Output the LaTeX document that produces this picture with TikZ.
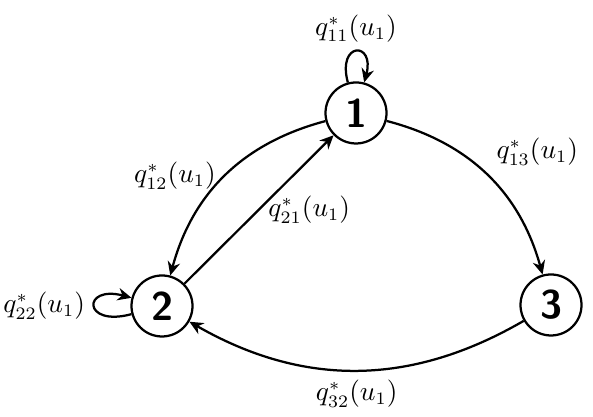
\documentclass[tikz,border=0pt]{standalone}
\usetikzlibrary{arrows.meta}
\begin{document}
\begin{tikzpicture}[x=0.4pt,y=0.4pt,
  state/.style={circle,draw,line width=0.9pt,minimum size=24.4pt,inner sep=0pt,
    font=\fontsize{16}{16}\selectfont\sffamily\bfseries},
  tr/.style={-{Stealth[length=5.5pt,width=5pt]},line width=0.9pt},
  lbl/.style={font=\fontsize{10.5}{12}\selectfont}]
\useasboundingbox (0,0) rectangle (593,417);
\node[state] (n1) at (356,304) {1};
\node[state] (n2) at (162,111) {2};
\node[state] (n3) at (551,112) {3};
\draw[tr] (n1) to[bend right=30] node[lbl,midway,left] {$q^*_{12}(u_1)$} (n2);
\draw[tr] (n2) -- node[lbl,midway,right] {$q^*_{21}(u_1)$} (n1);
\draw[tr] (n1) to[bend left=30] node[lbl,midway,above right] {$q^*_{13}(u_1)$} (n3);
\draw[tr] (n3) to[bend left=30] node[lbl,midway,below] {$q^*_{32}(u_1)$} (n2);
\draw[tr] (n1) to[loop above,min distance=6mm] node[lbl,above] {$q^*_{11}(u_1)$} (n1);
\draw[tr] (n2) to[loop left] node[lbl,left] {$q^*_{22}(u_1)$} (n2);
\end{tikzpicture}
\end{document}
